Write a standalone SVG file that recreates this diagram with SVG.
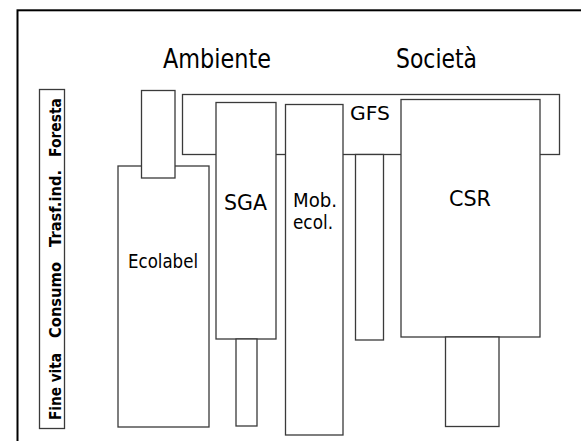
<svg xmlns="http://www.w3.org/2000/svg" width="581" height="441" viewBox="0 0 581 441">
<style>
.box{fill:#fff;stroke:#3a3a3a;stroke-width:1.3}
.lbl{font-family:"DejaVu Sans","Liberation Sans",sans-serif;fill:#000;text-anchor:middle}
.stage{font-family:"DejaVu Sans","Liberation Sans",sans-serif;font-weight:bold;font-size:15px;fill:#000;text-anchor:middle}
</style>
<rect width="581" height="441" fill="#fff"/>
<rect x="17.5" y="10.3" width="700" height="600" fill="none" stroke="#000" stroke-width="2"/>
<text class="lbl" x="217" y="68" font-size="26" textLength="108" lengthAdjust="spacingAndGlyphs">Ambiente</text>
<text class="lbl" x="436.5" y="68" font-size="26" textLength="81" lengthAdjust="spacingAndGlyphs">Società</text>
<g id="stages">
<rect class="box" x="39.5" y="89.5" width="25" height="339"/>
<text class="stage" transform="translate(61,127.5) rotate(-90)" textLength="59" lengthAdjust="spacingAndGlyphs">Foresta</text>
<text class="stage" transform="translate(61,208.5) rotate(-90)" textLength="77" lengthAdjust="spacingAndGlyphs">Trasf.ind.</text>
<text class="stage" transform="translate(61,300) rotate(-90)" textLength="76" lengthAdjust="spacingAndGlyphs">Consumo</text>
<text class="stage" transform="translate(61,386.5) rotate(-90)" textLength="67" lengthAdjust="spacingAndGlyphs">Fine vita</text>
</g>
<g id="gfs">
<rect class="box" x="182.5" y="94.5" width="377" height="60"/>
<rect class="box" x="355.5" y="154.5" width="28" height="185.5"/>
<text class="lbl" x="370" y="120" font-size="19" textLength="40" lengthAdjust="spacingAndGlyphs">GFS</text>
</g>
<g id="ecolabel">
<rect class="box" x="118" y="166" width="91" height="261"/>
<rect class="box" x="141.5" y="90.5" width="33.5" height="87.5"/>
<text class="lbl" x="163" y="268" font-size="19" textLength="70" lengthAdjust="spacingAndGlyphs">Ecolabel</text>
</g>
<g id="sga">
<rect class="box" x="216" y="102.5" width="60" height="236.5"/>
<rect class="box" x="236" y="339" width="21" height="87"/>
<text class="lbl" x="245.5" y="210" font-size="21" textLength="43" lengthAdjust="spacingAndGlyphs">SGA</text>
</g>
<g id="mob">
<rect class="box" x="285.5" y="104.5" width="57.5" height="330.5"/>
<text class="lbl" x="315" y="206.5" font-size="20" textLength="44" lengthAdjust="spacingAndGlyphs">Mob.</text>
<text class="lbl" x="313" y="229" font-size="20" textLength="40" lengthAdjust="spacingAndGlyphs">ecol.</text>
</g>
<g id="csr">
<rect class="box" x="401" y="99.5" width="139" height="237.5"/>
<rect class="box" x="445.5" y="337" width="53.5" height="89.5"/>
<text class="lbl" x="470" y="206" font-size="21" textLength="42" lengthAdjust="spacingAndGlyphs">CSR</text>
</g>
</svg>
